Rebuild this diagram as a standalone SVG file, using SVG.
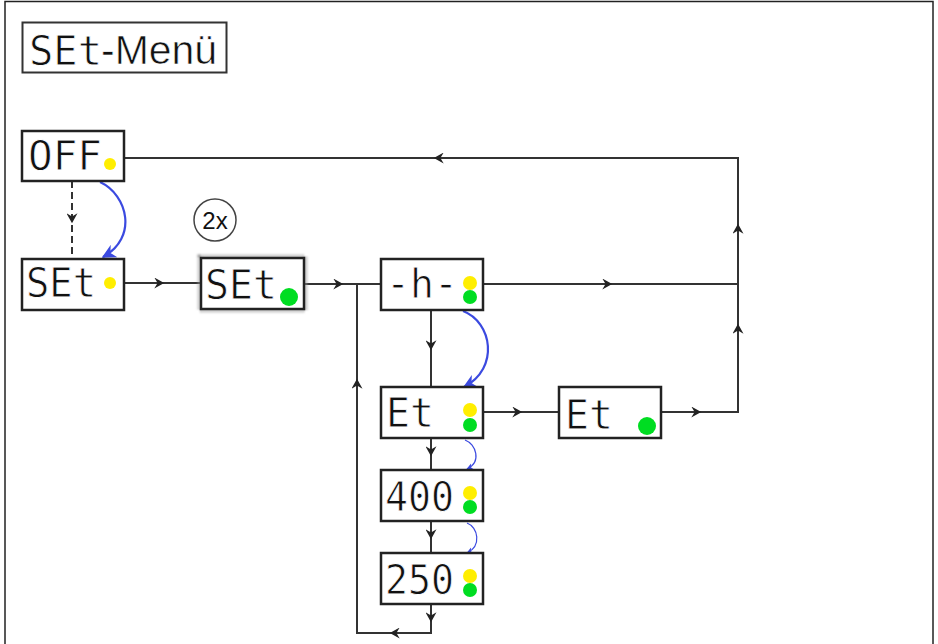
<svg xmlns="http://www.w3.org/2000/svg" width="938" height="644" viewBox="0 0 938 644">
<style>
.box{fill:#fff;stroke:#222;stroke-width:2.5}
.seg{font-family:"DejaVu Sans Mono","Liberation Mono",monospace;font-size:41px;fill:#111;stroke:#fff;stroke-width:0.8}
.ln{fill:none;stroke:#333;stroke-width:2}
.ah{fill:none;stroke:#333;stroke-width:1;marker-end:url(#arr)}
.blue{fill:none;stroke:#3b4ae0;stroke-width:2.2;marker-end:url(#barr)}
.blue2{fill:none;stroke:#3b4ae0;stroke-width:1.2;marker-end:url(#barr2)}
.y{fill:#ffee00}
.g{fill:#00dd22}
</style>
<defs>
<marker id="arr" viewBox="0 0 10 10" refX="7" refY="5" markerUnits="userSpaceOnUse" markerWidth="11" markerHeight="11" orient="auto">
<path d="M0,0 L9,5 L0,10 L3,5 z" fill="#222"/>
</marker>
<marker id="barr" viewBox="0 0 10 10" refX="9" refY="5" markerUnits="userSpaceOnUse" markerWidth="14" markerHeight="14" orient="auto">
<path d="M0,0 L10,5 L0,10 L3,5 z" fill="#3b4ae0"/>
</marker>
<marker id="barr2" viewBox="0 0 10 10" refX="9" refY="5" markerUnits="userSpaceOnUse" markerWidth="7" markerHeight="7" orient="auto">
<path d="M0,0 L10,5 L0,10 L3,5 z" fill="#3b4ae0"/>
</marker>
<filter id="fuzz" x="-20%" y="-30%" width="140%" height="160%">
<feGaussianBlur stdDeviation="1.2"/>
</filter>
</defs>
<rect x="0" y="0" width="938" height="644" fill="#fff"/>
<rect x="5" y="1.5" width="928" height="680" fill="none" stroke="#222" stroke-width="1.5"/>

<g id="title">
<rect x="22.5" y="22.5" width="204" height="50" fill="#fff" stroke="#333" stroke-width="2"/>
<text x="29" y="65" class="seg" font-size="44" textLength="73" lengthAdjust="spacingAndGlyphs">SEt</text>
<text x="101" y="64" font-family="Liberation Sans, Arial, sans-serif" font-size="40" fill="#111" stroke="#fff" stroke-width="0.6" textLength="116" lengthAdjust="spacingAndGlyphs">-Menü</text>
</g>

<g id="connectors">
<path class="ln" d="M124,158 H738 V412 H661"/>
<path class="ln" d="M483,284 H738"/>
<path class="ln" d="M124,283 H201"/>
<path class="ln" d="M304,284 H381"/>
<path class="ln" d="M357,284 V633 H431 V604"/>
<path class="ln" d="M431,310 V387"/>
<path class="ln" d="M483,412 H559"/>
<path class="ln" d="M431,438 V470"/>
<path class="ln" d="M431,521 V553"/>
<path class="ln" d="M72,181 V258" stroke-dasharray="7 4"/>
<path class="ah" d="M440,158 H436"/>
<path class="ah" d="M738,231 V226"/>
<path class="ah" d="M738,331 V326"/>
<path class="ah" d="M605,284 H610"/>
<path class="ah" d="M694,412 H699"/>
<path class="ah" d="M157,283 H162"/>
<path class="ah" d="M336,284 H341"/>
<path class="ah" d="M357,386 V381"/>
<path class="ah" d="M397,633 H392"/>
<path class="ah" d="M431,615 V620"/>
<path class="ah" d="M431,343 V348"/>
<path class="ah" d="M515,412 H520"/>
<path class="ah" d="M431,449 V454"/>
<path class="ah" d="M431,532 V537"/>
<path class="ah" d="M72,215 V221"/>
<path class="blue" d="M100,182 C128,195 138,238 103,257"/>
<path class="blue" d="M463,311 C492,322 500,368 464,387"/>
<path class="blue2" d="M465,440 C476,444 482,462 467,469"/>
<path class="blue2" d="M467,523 C478,527 482,546 467,553"/>
</g>

<g id="node-off">
<rect class="box" x="22" y="131" width="102" height="50"/>
<text class="seg" x="28" y="170" textLength="74" lengthAdjust="spacingAndGlyphs">OFF</text>
<circle class="y" cx="110" cy="164" r="6"/>
</g>

<g id="node-set1">
<rect class="box" x="22" y="259" width="102" height="51"/>
<text class="seg" x="26" y="297" textLength="70" lengthAdjust="spacingAndGlyphs">SEt</text>
<circle class="y" cx="110" cy="283" r="6"/>
</g>

<g id="note-2x">
<circle cx="215" cy="220" r="21" fill="#fff" stroke="#444" stroke-width="1.5"/>
<text x="215" y="229" text-anchor="middle" font-family="Liberation Sans, Arial, sans-serif" font-size="24" fill="#111">2x</text>
</g>

<g id="node-set2">
<rect x="200" y="257" width="105" height="53" fill="none" stroke="#999" stroke-width="5" stroke-dasharray="1.5 1.5" filter="url(#fuzz)"/>
<rect class="box" x="201" y="258" width="103" height="51"/>
<text class="seg" x="205" y="299" textLength="72" lengthAdjust="spacingAndGlyphs">SEt</text>
<circle class="g" cx="289" cy="297" r="9"/>
</g>

<g id="node-h">
<rect class="box" x="381" y="259" width="102" height="51"/>
<text class="seg" x="386" y="298" textLength="72" lengthAdjust="spacingAndGlyphs">-h-</text>
<circle class="y" cx="470" cy="283" r="7"/>
<circle class="g" cx="470" cy="297" r="7"/>
</g>

<g id="node-et1">
<rect class="box" x="381" y="387" width="102" height="51"/>
<text class="seg" x="386" y="427" textLength="48" lengthAdjust="spacingAndGlyphs">Et</text>
<circle class="y" cx="470" cy="410" r="7"/>
<circle class="g" cx="470" cy="425" r="7"/>
</g>

<g id="node-et2">
<rect class="box" x="559" y="387" width="102" height="51"/>
<text class="seg" x="565" y="429" textLength="48" lengthAdjust="spacingAndGlyphs">Et</text>
<circle class="g" cx="647" cy="426" r="9"/>
</g>

<g id="node-400">
<rect class="box" x="381" y="470" width="102" height="51"/>
<text class="seg" x="385" y="511" textLength="69" lengthAdjust="spacingAndGlyphs">400</text>
<circle class="y" cx="470" cy="493" r="7"/>
<circle class="g" cx="470" cy="507" r="7"/>
</g>

<g id="node-250">
<rect class="box" x="381" y="553" width="102" height="51"/>
<text class="seg" x="385" y="594" textLength="69" lengthAdjust="spacingAndGlyphs">250</text>
<circle class="y" cx="470" cy="576" r="7"/>
<circle class="g" cx="470" cy="590" r="7"/>
</g>
</svg>
